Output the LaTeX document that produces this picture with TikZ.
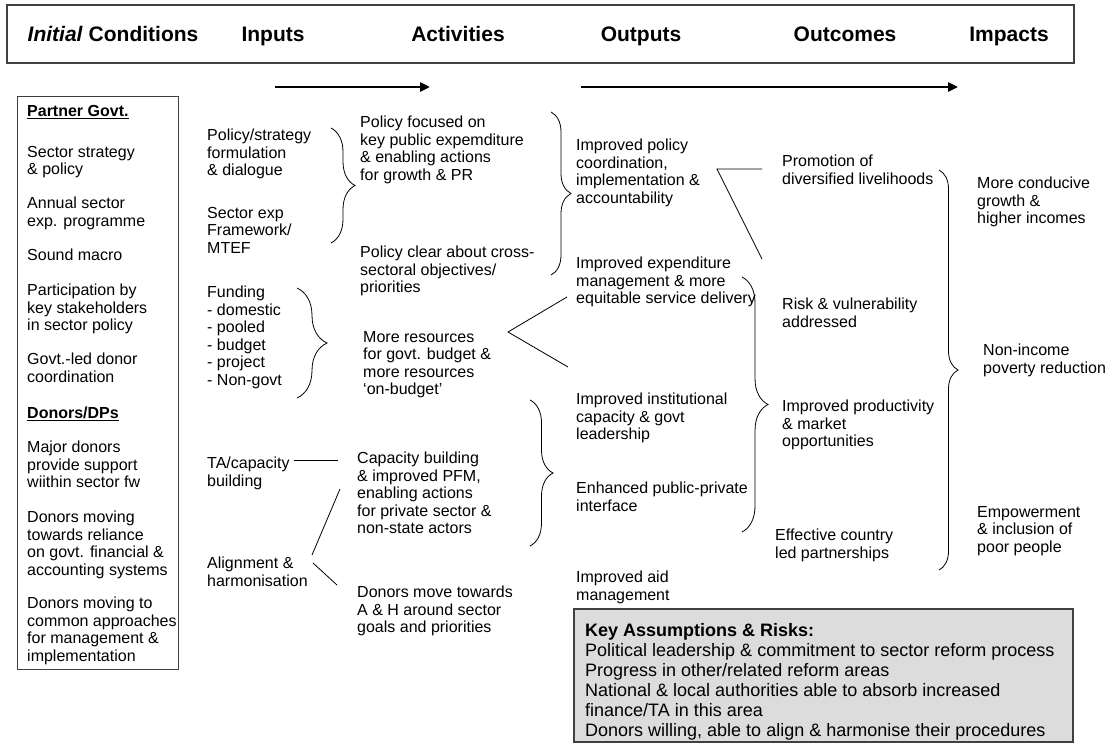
\documentclass[tikz,border=0pt]{standalone}
\usepackage{fontspec}
\setmainfont{Liberation Sans}
\usepackage{xcolor}
\definecolor{keygray}{HTML}{DCDCDC}
\definecolor{framegray}{HTML}{404040}
\usetikzlibrary{arrows.meta, decorations.pathreplacing}

\newcommand{\bodyfont}{\fontsize{16}{17.5}\selectfont}
\newcommand{\headfont}{\fontsize{21}{24}\selectfont\bfseries}
\newcommand{\keyfont}{\fontsize{18}{20}\selectfont}

\begin{document}
\begin{tikzpicture}[x=1pt, y=-1pt,
  item/.style={anchor=north west, align=left, inner sep=0pt, font=\bodyfont},
  head/.style={anchor=base, inner sep=0pt, font=\headfont},
  grp/.style={decorate, decoration={brace, amplitude=#1}, line width=0.8pt},
  link/.style={line width=0.8pt},
  flow/.style={line width=2.6pt, -{Triangle[length=10pt, width=9pt]}}
]
\useasboundingbox (0,0) rectangle (1110,744);

% headings
\draw[framegray, line width=1.3pt] (7,5) rectangle (1074,63);
\node[head] (hCond) at (113,41) {\textit{Initial} Conditions};
\node[head] (hIn) at (273,41) {Inputs};
\node[head] (hAct) at (458,41) {Activities};
\node[head] (hOut) at (641,41) {Outputs};
\node[head] (hOutc) at (845,41) {Outcomes};
\node[head] (hImp) at (1009,41) {Impacts};

\coordinate (f1s) at (275,87); \coordinate (f1e) at (430,87);
\coordinate (f2s) at (581,87); \coordinate (f2e) at (958,87);
\draw[flow] (f1s) -- (f1e);
\draw[flow] (f2s) -- (f2e);

% initial conditions
\draw[framegray, line width=1pt] (17,96) rectangle (178,669);
\node[item] (partner) at (27,105) {\underline{\textbf{Partner Govt.}}};
\node[item] (strat) at (27,146) {Sector strategy\\\& policy};
\node[item] (annual) at (27,197) {Annual sector\\exp. programme};
\node[item] (macro) at (27,249) {Sound macro};
\node[item] (partic) at (27,284) {Participation by\\key stakeholders\\in sector policy};
\node[item] (donco) at (27,353) {Govt.-led donor\\coordination};
\node[item] (dps) at (27,407) {\underline{\textbf{Donors/DPs}}};
\node[item] (major) at (27,441) {Major donors\\provide support\\wiithin sector fw};
\node[item] (relian) at (27,511) {Donors moving\\towards reliance\\on govt. financial \&\\accounting systems};
\node[item] (common) at (27,597) {Donors moving to\\common approaches\\for management \&\\implementation};

% inputs
\node[item] (polform) at (207,129) {Policy/strategy\\formulation\\\& dialogue};
\node[item] (secexp) at (207,207) {Sector exp\\Framework/\\MTEF};
\node[item] (fund) at (207,286) {Funding\\- domestic\\- pooled\\- budget\\- project\\- Non-govt};
\node[item] (ta) at (207,457) {TA/capacity\\building};
\node[item] (align) at (207,557) {Alignment \&\\harmonisation};

% activities
\node[item] (focus) at (360,116) {Policy focused on\\key public expemditure\\\& enabling actions\\for growth \& PR};
\node[item] (cross) at (360,246) {Policy clear about cross-\\sectoral objectives/\\priorities};
\node[item] (resrc) at (363,331) {More resources\\for govt. budget \&\\more resources\\`on-budget'};
\node[item] (capb) at (357,452) {Capacity building\\\& improved PFM,\\enabling actions\\for private sector \&\\non-state actors};
\node[item] (moveah) at (357,586) {Donors move towards\\A \& H around sector\\goals and priorities};

% outputs
\node[item] (coord) at (576,139) {Improved policy\\coordination,\\implementation \&\\accountability};
\node[item] (expm) at (576,257) {Improved expenditure\\management \& more\\equitable service delivery};
\node[item] (inst) at (576,393) {Improved institutional\\capacity \& govt\\leadership};
\node[item] (ppi) at (576,482) {Enhanced public-private\\interface};
\node[item] (aid) at (576,571) {Improved aid\\management};

% outcomes
\node[item] (livel) at (782,155) {Promotion of\\diversified livelihoods};
\node[item] (risk) at (782,298) {Risk \& vulnerability\\addressed};
\node[item] (prod) at (782,400) {Improved productivity\\\& market\\opportunities};
\node[item] (partn) at (775,529) {Effective country\\led partnerships};

% impacts
\node[item] (growth) at (977,177) {More conducive\\growth \&\\higher incomes};
\node[item] (noninc) at (983,344) {Non-income\\poverty reduction};
\node[item] (empow) at (977,506) {Empowerment\\\& inclusion of\\poor people};

% braces
\coordinate (b1t) at (331,128); \coordinate (b1b) at (331,243);
\coordinate (b2t) at (297,288); \coordinate (b2b) at (297,398);
\coordinate (b3t) at (551,112); \coordinate (b3b) at (551,275);
\coordinate (b4t) at (530,400); \coordinate (b4b) at (530,546);
\coordinate (b5t) at (742,277); \coordinate (b5b) at (742,532);
\coordinate (b6t) at (939,170); \coordinate (b6b) at (939,570);
\draw[grp=24] (b1t) -- (b1b);
\draw[grp=30] (b2t) -- (b2b);
\draw[grp=20] (b3t) -- (b3b);
\draw[grp=23] (b4t) -- (b4b);
\draw[grp=26] (b5t) -- (b5b);
\draw[grp=19] (b6t) -- (b6b);

% connectors
\coordinate (resApex) at (508,332);
\coordinate (resUp) at (567,297); \coordinate (resDn) at (568,367);
\draw[link] (resUp) -- (resApex) -- (resDn);
\coordinate (coApex) at (717,169);
\coordinate (coRt) at (762,169); \coordinate (coDn) at (762,259);
\draw[link] (coRt) -- (coApex) -- (coDn);
\coordinate (taEnd) at (294,460); \coordinate (capEnd) at (338,460);
\draw[link] (taEnd) -- (capEnd);
\coordinate (alUp) at (312,555); \coordinate (capLow) at (340,489);
\coordinate (alDn) at (313,563); \coordinate (ahEnd) at (337,585);
\draw[link] (alUp) -- (capLow);
\draw[link] (alDn) -- (ahEnd);

% key assumptions
\draw[framegray, fill=keygray, line width=1.6pt] (574,609) rectangle (1073,742);
\node[anchor=north west, align=left, inner sep=0pt, font=\keyfont] (keyrisk) at (585,623)
  {\textbf{Key Assumptions \& Risks:}\\Political leadership \& commitment to sector reform process\\Progress in other/related reform areas\\National \& local authorities able to absorb increased\\finance/TA in this area\\Donors willing, able to align \& harmonise their procedures};
\end{tikzpicture}
\end{document}
